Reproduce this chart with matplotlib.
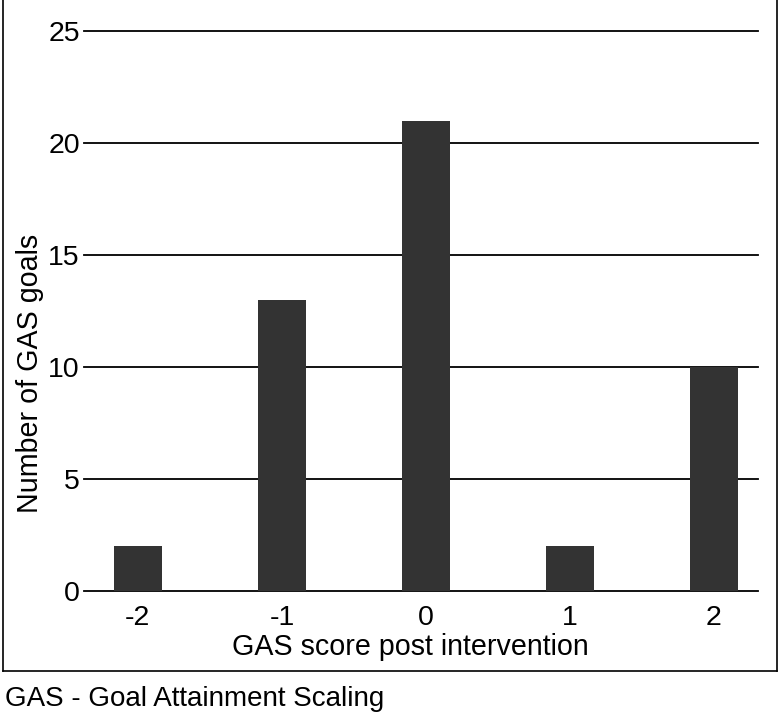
import matplotlib.pyplot as plt
from matplotlib.lines import Line2D

# data
scores = ['-2', '-1', '0', '1', '2']
goals = [2, 13, 21, 2, 10]
yticks = [0, 5, 10, 15, 20, 25]

plt.rcParams['font.family'] = ['Liberation Sans', 'DejaVu Sans']

W, H = 780, 713
fig = plt.figure(figsize=(W / 100, H / 100), dpi=100)
ax = fig.add_axes([84 / W, 1 - 591 / H, (758 - 84) / W, (591 - 31) / H])

pos = list(range(len(scores)))
ax.bar(pos, goals, width=0.333, color='#333333', zorder=3)

ax.set_xlim(-0.374, 4.306)
ax.set_ylim(0, 25)
ax.set_yticks(yticks)
ax.set_xticks(pos)
ax.set_xticklabels(scores)
for y in yticks:
    ax.axhline(y, color='black', lw=1.3, zorder=1, clip_on=False)

for s in ax.spines.values():
    s.set_visible(False)
ax.tick_params(axis='both', length=0, labelsize=20.5)
ax.tick_params(axis='y', pad=3)
ax.tick_params(axis='x', pad=10)

# axis titles placed where the reference has them
fig.text(410 / W, 1 - 655 / H, 'GAS score post intervention', fontsize=20.6,
         ha='center', va='baseline')
fig.text(30 / W, 1 - 373 / H, 'Number of GAS goals', fontsize=20.6,
         rotation=90, ha='center', va='center')

# outer frame
fx0, fx1, fy0 = 3 / W, 777 / W, 1 - 671 / H
fig.add_artist(Line2D([fx0, fx0], [fy0, 1.0], color='black', lw=1.2))
fig.add_artist(Line2D([fx1, fx1], [fy0, 1.0], color='black', lw=1.2))
fig.add_artist(Line2D([fx0, fx1], [fy0, fy0], color='black', lw=1.2))

fig.text(5 / W, 1 - 706 / H, 'GAS - Goal Attainment Scaling', fontsize=20,
         va='baseline', ha='left')

fig.savefig('out.png', dpi=100)
